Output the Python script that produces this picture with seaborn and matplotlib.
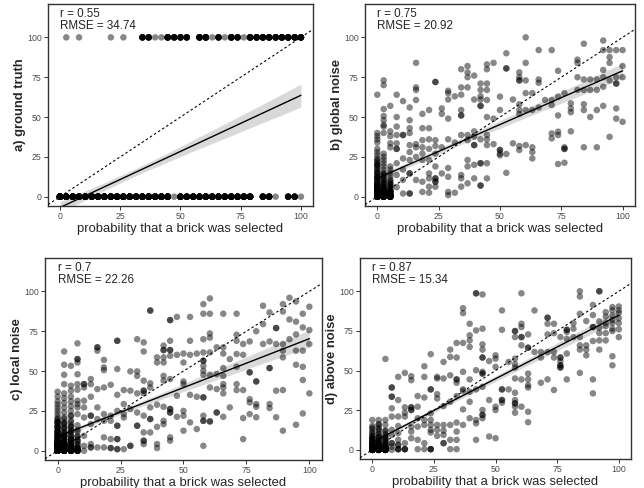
import numpy as np
import pandas as pd
import seaborn as sns
import matplotlib
matplotlib.use("Agg")
import matplotlib.pyplot as plt

# panel a: every response is 0 or 100, so keep x positions and how many points sit there
a_x0 = [0, 2.6, 5.3, 7.9, 10.5, 13.2, 15.8, 18.4, 21.1, 23.7, 26.3, 28.9, 31.6, 34.2, 36.8, 39.5,
        42.1, 44.7, 47.4, 50, 52.6, 55.3, 57.9, 60.5, 63.2, 65.8, 68.4, 71.1, 73.7, 76.3, 78.9,
        84.2, 86.8, 89.5, 94.7, 97.4, 100]
a_n0 = [50, 15, 15, 15, 15, 15, 15, 15, 15, 15, 15, 15, 15, 15, 15, 15,
        15, 15, 1, 12, 12, 12, 12, 12, 12, 12, 12, 12, 12, 12, 12,
        9, 9, 1, 6, 6, 1]
a_x1 = [2.6, 7.9, 21.1, 26.3, 34.2, 36.8, 39.5, 42.1, 44.7, 47.4, 50, 52.6, 57.9, 60.5, 63.2,
        65.8, 68.4, 71.1, 73.7, 76.3, 78.9, 81.6, 84.2, 86.8, 89.5, 92.1, 94.7, 97.4, 100]
a_n1 = [1, 1, 1, 1, 6, 6, 1, 1, 9, 6, 6, 6, 9, 9, 1,
        6, 1, 9, 6, 1, 9, 9, 9, 9, 9, 9, 9, 9, 9]

# panels b-d: x columns and the responses stacked in each column
b_cols = [0, 2.6, 5.3, 7.9, 10.5, 13.2, 15.8, 18.4, 21.1, 23.7, 26.3, 28.9, 31.6, 34.2, 36.8,
          39.5, 42.1, 44.7, 47.4, 50, 52.6, 55.3, 57.9, 60.5, 63.2, 65.8, 68.4, 71.1, 73.7,
          76.3, 78.9, 81.6, 84.2, 86.8, 89.5, 92.1, 94.7, 97.4, 100]
b_vals = [
    [64, 40, 38, 36, 34, 30, 28, 26, 24, 23, 22, 21, 20, 19, 18, 17, 16, 15, 14, 13, 12, 11,
     10, 9, 8, 7, 6, 5, 4, 3, 2, 1, 0, 0, 1, 2, 3, 5, 8, 12, 15, 20],
    [73, 70, 55, 50.6, 48, 45, 44, 40, 27, 25, 23, 21, 19, 17, 15, 13, 11, 9, 7, 5, 3, 1, 0, 2, 6, 10, 14],
    [57, 41, 38, 33.5, 31, 19, 17, 15, 13, 11, 9, 7, 5, 3, 1, 0, 4],
    [64, 50, 44, 38.7, 33.5, 30, 30, 21, 13.6, 6],
    [60, 38.7, 38.7, 24, 17, 10.5, 2],
    [56, 48, 43, 40, 32.4, 28, 23, 14.6, 14.6, 2, 2],
    [84, 68.6, 67, 60.7, 33, 31, 25, 10.5],
    [52, 43, 35.5, 31, 27, 23, 9.4, 3],
    [54.4, 43, 36, 30, 23, 14.6, 11.5, 6.3, 2.5],
    [72, 72, 35.5, 31.8, 27, 19, 11.5, 11.5, 9.4, 9.4, 6.3],
    [55.4, 52, 31, 14.6],
    [66.5, 65, 61, 49, 36, 18, 12.5, 3, 1],
    [63, 34, 2.5],
    [80, 68.6, 64, 54.4, 51, 51, 38.7, 13.6, 11.5, 6.3],
    [82, 78, 75, 68.6, 38.7, 35.5, 23, 19, 8.4],
    [76, 61, 41, 37.7, 32.4, 32.4, 20, 11.5],
    [71, 67, 63, 61, 57, 57, 36, 21, 21, 7, 7],
    [83, 80, 71, 67, 60.7, 50, 38.7, 36, 32.4, 21, 11.5],
    [84, 49, 33],
    [62.8, 54.4, 29.3, 29.3, 27, 26],
    [90, 80.5, 80.5, 26.8, 15],
    [61, 33.5],
    [78, 75, 73, 73, 58, 54.4, 52, 31.8, 29.3],
    [100, 84, 73, 65, 54.4, 32.4],
    [65, 54.4, 31, 28, 24],
    [92, 73.6, 71.5, 56],
    [60.7],
    [92, 60.7, 57.5, 39.7, 36.6],
    [79, 62.8, 51, 40.8, 38.7, 20.5],
    [65, 31, 30, 30, 21.3],
    [58.6, 55.4, 53, 41],
    [86, 84, 75, 67],
    [96, 73.6, 67, 58, 54.4, 31],
    [73.6, 67, 50],
    [73.6, 67, 54.4, 31],
    [98, 92, 79.5, 75, 69, 57],
    [92, 87.6, 84, 73, 37.6],
    [92, 75, 71, 71, 55.4, 49],
    [92, 82, 75, 47],
]
# heavily overplotted pile in the lower left corner: x, y, number of points
b_pile_x = [0, 0, 0, 0, 0, 0, 0, 0, 0, 0, 0,
            2.6, 2.6, 2.6, 2.6, 2.6, 2.6, 2.6, 2.6, 2.6, 2.6, 2.6,
            5.3, 5.3, 5.3, 5.3, 5.3, 5.3, 5.3, 5.3]
b_pile_y = [0, 1, 2, 3, 4, 5, 6, 7, 8, 10, 12,
            0, 1, 2, 3, 4, 5, 6, 8, 10, 12, 14,
            0, 1, 2, 3, 4, 6, 8, 10]
b_pile_n = [20, 6, 6, 4, 3, 3, 2, 2, 2, 1, 1,
            16, 5, 4, 3, 3, 2, 2, 2, 1, 1, 1,
            12, 4, 4, 3, 2, 2, 2, 1]

c_cols = b_cols
c_vals = [
    [37, 34, 31, 29, 27, 25, 23, 21, 19, 17, 15, 13, 11, 9, 7, 5, 3, 1, 0, 0, 2, 4, 6, 8, 10,
     12, 14, 16, 18, 20],
    [62.3, 54, 47.7, 41.8, 36, 33, 30, 27, 24, 21, 18, 15, 12, 9, 6, 3, 0, 1, 5, 10],
    [53.3, 40.8, 37.7, 34, 31, 28, 25, 22, 19, 16, 13, 10, 7, 4, 1, 0, 2],
    [67.4, 57.5, 57.5, 55.4, 48, 41.8, 38.3, 31.4, 29.3, 27.2, 23, 13, 7.3, 0],
    [41.8, 41.8, 39.7, 31.4, 27.2, 20.9, 9.4, 3.1, 0],
    [45, 41.8, 33.9, 22, 22, 16.7, 4.2, 2.1, 2.1],
    [64.9, 64.9, 62.8, 38.7, 27.2, 19.9, 2.1],
    [57, 52.3, 50.6, 39.7, 23, 18.8, 8.4, 2.1],
    [41.4, 22, 18.8, 7.3, 1.7, 1.7],
    [69, 69, 51.3, 35.1, 25, 15.7, 15.7, 7.3, 7.3, 1, 1],
    [38.1, 29.3, 23, 20.9, 1],
    [49.8, 37.7, 26.2, 3.1, 3.1],
    [70, 49.8, 47, 36, 24, 15.7, 15.7],
    [68, 62.3, 44, 37.7, 37.7, 36, 22, 11.5, 6.3, 6.3, 4.2],
    [88, 88, 42.3, 39.7, 27.2, 19.9, 19.9, 11.5],
    [58.6, 55.4, 28.9, 15, 4.2, 1.7],
    [66, 63.2, 63.2, 58.6, 55.4, 47, 44, 27.6, 18.8, 16.7],
    [82, 82, 69, 63.2, 63.2, 59.6, 45, 26.2, 26.2, 24, 24, 8.4, 6.3],
    [84, 60.2, 34.5, 21.3],
    [61, 55.4, 43.5, 41.8, 25, 22, 12.6],
    [84, 69, 60.2, 35.1, 17.8],
    [61, 33.9, 13.6],
    [92, 86, 70, 61.7, 56.5, 56.5, 53.3, 50.2, 47.7, 33.5, 33.5, 22, 18.8, 18.8, 3.1],
    [95.6, 86, 73.6, 71, 61.7, 47.7, 39.7, 18.4, 18.4],
    [64.9, 48.1, 38.7, 24, 24],
    [86, 64.9, 61, 51.9, 47, 41.8, 39.7, 36, 21.3],
    [57.5, 27.2],
    [86, 72.8, 69, 60.7, 52.7, 41.8, 38.1],
    [67, 60.2, 38.1, 20.5, 7.3],
    [68.6, 49.2, 49.2, 32.4, 30.3, 23],
    [75, 43.5, 43.5, 29.3, 27.6, 21],
    [91, 79.5, 67],
    [86.8, 68.6, 51.9, 51.9, 29.3, 26.8],
    [77, 77, 67, 37.7, 21],
    [92, 87.4, 67, 62.8, 58.6, 38.1, 12.6],
    [96, 82.4, 70],
    [93.7, 81, 73, 62.8, 54, 16.3],
    [86, 77.4, 62.8, 52.7, 44.4, 23.4],
    [90.4, 75.7, 67, 36],
]
c_pile_x = [0, 0, 0, 0, 0, 0, 0, 0, 0, 0, 0, 0,
            2.6, 2.6, 2.6, 2.6, 2.6, 2.6, 2.6, 2.6, 2.6, 2.6, 2.6, 2.6,
            5.3, 5.3, 5.3, 5.3, 5.3, 5.3, 5.3, 5.3, 5.3, 5.3, 5.3,
            7.9, 7.9, 7.9, 7.9, 7.9, 7.9, 7.9, 7.9]
c_pile_y = [0, 1, 2, 3, 4, 5, 6, 8, 10, 12, 15, 18,
            0, 1, 2, 3, 4, 5, 7, 9, 11, 14, 17, 20,
            0, 1, 2, 3, 5, 7, 9, 12, 15, 18, 22,
            0, 1, 2, 4, 6, 9, 12, 16]
c_pile_n = [30, 8, 8, 6, 5, 5, 4, 4, 3, 3, 2, 2,
            22, 6, 6, 5, 4, 4, 3, 3, 2, 2, 2, 1,
            14, 4, 4, 4, 3, 3, 2, 2, 2, 1, 1,
            6, 3, 3, 2, 2, 2, 1, 1]

d_cols = b_cols
d_vals = [
    [18.8, 15, 13, 11, 9, 7, 5, 3, 1, 0, 0, 2, 4, 6, 8],
    [18.8, 16, 14, 12, 10, 8, 6, 4, 2, 0, 0, 1, 3],
    [57.3, 18.8, 15.7, 12, 10, 8, 6, 4, 2, 0, 0, 0, 1],
    [39.3, 39.3, 33.5, 33.5, 26.2, 21, 12.6, 9.4, 4.2, 4.2, 0, 2],
    [46, 31.4, 21, 15, 10.5, 6.3, 3.1, 3.1, 0.4, 0.4, 0.4],
    [48.5, 26.8, 23.4, 21, 4.2, 0.4, 0.4, 0.4],
    [46.4, 43.9, 26.8, 26.8, 25.1, 25.1, 14.6, 11.5, 7.3],
    [33.9, 27.2, 19.9, 14.6, 6.3, 0.4],
    [52.7, 46, 33, 18.8, 15.7, 4.2, 0.4],
    [60.3, 38.1, 38.1, 23, 18.8, 15.7, 12.6, 10.9, 0.4, 0.4, 0.4],
    [46, 45, 35.1, 32.4, 15.7, 12.6, 8.8],
    [55.4, 45, 27.6, 15.7, 12.1, 9.4, 4.2, 4.2],
    [63.2, 58.6, 47, 30.3, 15.7, 6.3, 0.4],
    [67.4, 58.2, 44.4, 44.4, 42.3, 33.9, 17.2, 11.5, 6.3, 0.4],
    [89.3, 86.2, 67.4, 49.2, 38.1, 37.2, 25.5, 15.7],
    [79.5, 72.2, 69, 64.9, 44.4, 36.6, 30.3, 19.9],
    [98.7, 98.7, 75.3, 50.2, 38.1, 18.8, 16.7, 6.3],
    [98, 76.4, 66.5, 63.2, 58.2, 58.2, 49.2, 48.1, 48.1, 39.7, 25.1, 22, 22, 19.9],
    [56, 31.4, 8.4],
    [59.6, 57.5, 52.3, 27.2, 25.1, 7.3],
    [87.9, 75.7, 38.1, 38.1, 31.4, 31.4, 29.7],
    [55.4, 38.1],
    [74.9, 74.9, 71.1, 57.5, 54, 51.9, 45, 36, 31.4, 29.3, 29.3, 27.2, 23.4],
    [98.7, 79.5, 77.4, 71.1, 71.1, 65.9, 44.4, 27.2],
    [72.8, 64.4, 64.4, 48.1, 44.4, 40.8, 39.3, 24, 17.4],
    [87.9, 61.7],
    [61.7, 58.2, 42.3],
    [83.3, 83.3, 79.5, 72.8, 61.7, 44.4],
    [79.5, 73.6, 61.7, 58.2, 37.7],
    [71.1, 58.2, 58.2, 56, 53.3, 53.3, 51.9, 51.9],
    [75.7, 75.7, 74.3, 70, 60.7, 44.4],
    [79.9, 76.4, 71.1],
    [100, 96.7, 85.8, 71.1, 65.9, 63.2, 48.5],
    [81.2, 65.9, 63.2, 59.6],
    [91.4, 85, 77.4, 77.4, 68.6, 44.4, 35.6],
    [100, 100, 81, 77, 73.6, 69, 63.2],
    [86.8, 84, 80, 78, 73.6, 69],
    [90, 88, 84.7, 82, 79.9, 76.4, 74.9, 59, 53.3],
    [90.4, 88, 86.2, 83, 79.9, 76, 71.1],
]
d_pile_x = [0, 0, 0, 0, 0, 0, 0, 0, 0, 0,
            2.6, 2.6, 2.6, 2.6, 2.6, 2.6, 2.6, 2.6, 2.6, 2.6,
            5.3, 5.3, 5.3, 5.3, 5.3, 5.3, 5.3, 5.3]
d_pile_y = [0, 1, 2, 3, 4, 5, 7, 9, 11, 14,
            0, 1, 2, 3, 4, 6, 8, 10, 13, 16,
            0, 1, 2, 3, 5, 7, 9, 12]
d_pile_n = [16, 5, 5, 4, 3, 2, 2, 1, 1, 1,
            13, 5, 4, 3, 3, 2, 2, 1, 1, 1,
            9, 4, 3, 3, 2, 2, 1, 1]

labels = ["a) ground truth", "b) global noise", "c) local noise", "d) above noise"]
r_text = ["0.55", "0.75", "0.7", "0.87"]
rmse_text = ["34.74", "20.92", "22.26", "15.34"]
xlab = "probability that a brick was selected"


def stacked(cols, vals, pile_x, pile_y, pile_n):
    rows = [(x, y) for x, ys in zip(cols, vals) for y in ys]
    df = pd.DataFrame(rows, columns=["prob", "resp"])
    pile = pd.DataFrame({"prob": np.repeat(pile_x, pile_n), "resp": np.repeat(pile_y, pile_n)})
    return pd.concat([df, pile], ignore_index=True)


df_a = pd.concat([
    pd.DataFrame({"prob": np.repeat(a_x0, a_n0), "resp": 0.0}),
    pd.DataFrame({"prob": np.repeat(a_x1, a_n1), "resp": 100.0}),
], ignore_index=True)
frames = [df_a,
          stacked(b_cols, b_vals, b_pile_x, b_pile_y, b_pile_n),
          stacked(c_cols, c_vals, c_pile_x, c_pile_y, c_pile_n),
          stacked(d_cols, d_vals, d_pile_x, d_pile_y, d_pile_n)]

sns.set_style("white")
plt.rcParams["font.family"] = ["Liberation Sans", "DejaVu Sans"]

fig = plt.figure(figsize=(6.44, 4.88), dpi=100)
boxes = [[0.0745, 0.578, 0.4115, 0.414],
         [0.5668, 0.578, 0.419, 0.414],
         [0.0699, 0.0574, 0.430, 0.414],
         [0.559, 0.0594, 0.421, 0.412]]

for box, df, lab, r, rmse in zip(boxes, frames, labels, r_text, rmse_text):
    ax = fig.add_axes(box)
    sns.scatterplot(data=df, x="prob", y="resp", color="black", alpha=0.47, s=22,
                    edgecolor="none", legend=False, ax=ax, zorder=2)
    sns.regplot(data=df, x="prob", y="resp", scatter=False, color="black",
                line_kws={"lw": 1.0}, seed=3, ax=ax)
    ax.axline((0, 0), slope=1, color="black", lw=0.8, ls=(0, (2.2, 2.2)), zorder=4)
    ax.set_xlim(-5, 105)
    ax.set_ylim(-5.8, 121)
    ax.set_xticks([0, 25, 50, 75, 100])
    ax.set_yticks([0, 25, 50, 75, 100])
    ax.tick_params(direction="out", length=3, width=0.7, color="#333333",
                   labelcolor="#4d4d4d", labelsize=6.3, pad=1.5,
                   bottom=True, left=True)
    for sp in ax.spines.values():
        sp.set_color("#333333")
        sp.set_linewidth(1.0)
    ax.set_xlabel(xlab, fontsize=9.4, labelpad=1.5)
    ax.set_ylabel(lab, fontsize=9.4, fontweight="bold", labelpad=0.5)
    ax.text(0, 118.5, f"r = {r}\nRMSE = {rmse}", ha="left", va="top",
            fontsize=8.4, linespacing=1.0)

fig.savefig("out.png", dpi=100)
